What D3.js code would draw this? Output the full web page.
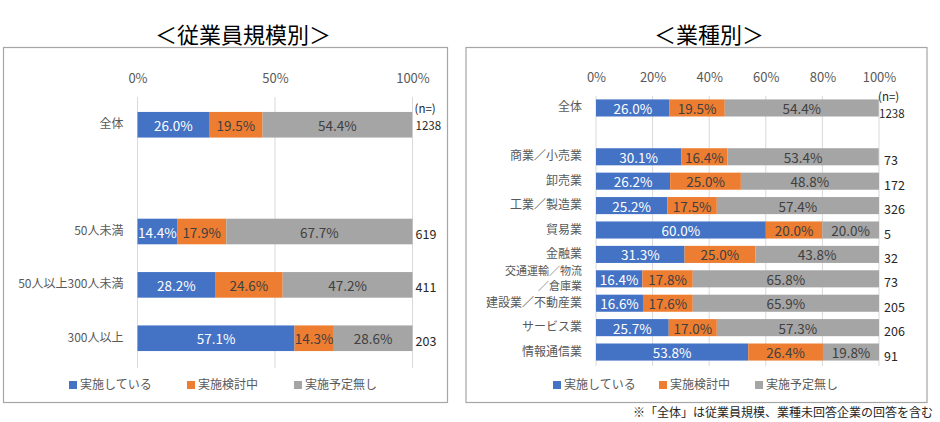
<!DOCTYPE html>
<html>
<head>
<meta charset="utf-8">
<script src="https://cdn.jsdelivr.net/npm/d3@7"></script>
<style>
	body { margin: 0; background: #fff; }
	svg text { font-family: "Noto Sans CJK JP", "Noto Sans", sans-serif; }
</style>
</head>
<body>
<div id="chart"></div>
<script>
//////////////////////////// data /////////////////////////////////////////

const seriesNames = ["実施している", "実施検討中", "実施予定無し"];

// 従業員規模別
const sizeCats = ["全体", "50人未満", "50人以上300人未満", "300人以上"];
const sizeDoing = [26.0, 14.4, 28.2, 57.1];
const sizePlanning = [19.5, 17.9, 24.6, 14.3];
const sizeNone = [54.4, 67.7, 47.2, 28.6];
const sizeN = [1238, 619, 411, 203];
const sizeTicks = [0, 50, 100];

// 業種別
const indCats = [
	"全体", "商業／小売業", "卸売業", "工業／製造業", "貿易業", "金融業",
	"交通運輸／物流\n／倉庫業", "建設業／不動産業", "サービス業", "情報通信業"
];
const indDoing = [26.0, 30.1, 26.2, 25.2, 60.0, 31.3, 16.4, 16.6, 25.7, 53.8];
const indPlanning = [19.5, 16.4, 25.0, 17.5, 20.0, 25.0, 17.8, 17.6, 17.0, 26.4];
const indNone = [54.4, 53.4, 48.8, 57.4, 20.0, 43.8, 65.8, 65.9, 57.3, 19.8];
const indN = [1238, 73, 172, 326, 5, 32, 73, 205, 206, 91];
const indTicks = [0, 20, 40, 60, 80, 100];

const footnote = "※「全体」は従業員規模、業種未回答企業の回答を含む";

//////////////////////////// svg ///////////////////////////////////

const colors = ["#4472C4", "#ED7D31", "#A5A5A5"];
const labelColors = ["#ffffff", "#404040", "#404040"];

const svg = d3.select("#chart").append("svg")
	.attr("width", 940)
	.attr("height", 422);

const drawPanel = (p) => {
	const g = svg.append("g");

	// frame + title
	g.append("rect")
		.attr("x", p.frame[0]).attr("y", p.frame[1])
		.attr("width", p.frame[2]).attr("height", p.frame[3])
		.attr("fill", "none").attr("stroke", "#a6a6a6").attr("stroke-width", 1.2);

	g.append("text")
		.attr("x", p.titleX).attr("y", 33)
		.attr("text-anchor", "middle").attr("dominant-baseline", "central")
		.attr("font-size", 22).attr("fill", "#000")
		.text(p.title);

	// rows, with an empty slot after 全体
	const rows = p.cats.map((c, i) => ({
		key: "r" + i,
		cat: c,
		vals: [p.doing[i], p.planning[i], p.none[i]],
		n: p.n[i]
	}));
	const domain = [rows[0].key, "gap", ...rows.slice(1).map((d) => d.key)];

	const x = d3.scaleLinear().domain([0, 100]).range(p.xRange);
	const y = d3.scaleBand()
		.domain(domain)
		.range(p.yRange)
		.paddingInner(p.padIn)
		.paddingOuter(p.padOut);

	// gridlines
	g.selectAll(".grid")
		.data(p.ticks)
		.enter()
		.append("line")
		.attr("x1", (d) => x(d)).attr("x2", (d) => x(d))
		.attr("y1", p.yRange[0]).attr("y2", p.yRange[1] + 2)
		.attr("stroke", "#d9d9d9").attr("stroke-width", 1);

	// axis on top
	const axis = g.append("g")
		.attr("transform", `translate(0,${p.yRange[0]})`)
		.call(d3.axisTop(x).tickValues(p.ticks).tickFormat((d) => d + "%").tickSize(0).tickPadding(14));
	axis.select(".domain").remove();
	axis.selectAll("text")
		.attr("font-size", 13).attr("fill", "#595959")
		.style("font-family", '"Noto Sans CJK JP", sans-serif');

	// stacked segments
	rows.forEach((r) => {
		let acc = 0;
		r.vals.forEach((v, k) => {
			const x0 = acc;
			acc += v;
			g.append("rect")
				.attr("x", x(x0))
				.attr("y", y(r.key))
				.attr("width", x(Math.min(acc, 100)) - x(x0))
				.attr("height", y.bandwidth())
				.attr("fill", colors[k]);
			g.append("text")
				.attr("x", (x(x0) + x(Math.min(acc, 100))) / 2)
				.attr("y", y(r.key) + y.bandwidth() / 2)
				.attr("text-anchor", "middle").attr("dominant-baseline", "central")
				.attr("font-size", 13.5).attr("fill", labelColors[k])
				.text(v.toFixed(1) + "%");
		});

		// category label (two-line labels as one text with tspans)
		const cy = y(r.key) + y.bandwidth() / 2;
		const lines = r.cat.split("\n");
		const multi = lines.length > 1;
		const cat = g.append("text")
			.attr("text-anchor", "end")
			.attr("font-size", multi ? 11 : 12).attr("fill", "#595959");
		lines.forEach((line, li) => {
			cat.append("tspan")
				.attr("x", x(0) - p.catGap)
				.attr("y", multi ? cy - 8.5 + li * 14.5 : cy - 2)
				.attr("dominant-baseline", "central")
				.text(line);
		});

		// n label
		const nx = x(100) + p.nGap;
		if (r.cat === "全体") {
			g.append("text")
				.attr("x", nx - 1).attr("y", cy - p.nUp)
				.attr("dominant-baseline", "central")
				.attr("font-size", 11.5).attr("fill", "#262626")
				.text("(n=)");
			g.append("text")
				.attr("x", nx).attr("y", cy - p.nUp + p.nStep)
				.attr("dominant-baseline", "central")
				.attr("font-size", 11.5).attr("fill", "#262626")
				.text(r.n);
		} else {
			g.append("text")
				.attr("x", nx + p.nShift).attr("y", cy + p.nDown)
				.attr("dominant-baseline", "central")
				.attr("font-size", 12.5).attr("fill", "#262626")
				.text(r.n);
		}
	});

	// legend
	const legend = g.selectAll(".legend")
		.data(seriesNames)
		.enter()
		.append("g")
		.attr("transform", (d, i) => `translate(${p.legendX[i]},383)`);
	legend.append("rect")
		.attr("x", 0).attr("y", -2).attr("width", 8).attr("height", 8)
		.attr("fill", (d, i) => colors[i]);
	legend.append("text")
		.attr("x", 11).attr("y", 0)
		.attr("dominant-baseline", "central")
		.attr("font-size", 12).attr("fill", "#595959")
		.text((d) => d);
};

drawPanel({
	title: "＜従業員規模別＞",
	titleX: 243,
	frame: [3.5, 47.5, 444, 355],
	cats: sizeCats, doing: sizeDoing, planning: sizePlanning, none: sizeNone, n: sizeN,
	ticks: sizeTicks,
	xRange: [137.5, 412.5],
	yRange: [97, 366],
	padIn: 0.52, padOut: 0.28,
	catGap: 14,
	nGap: 3, nShift: 0, nUp: 17, nStep: 17, nDown: 2,
	legendX: [69, 187, 294]
});

drawPanel({
	title: "＜業種別＞",
	titleX: 709,
	frame: [466, 47.5, 461, 355],
	cats: indCats, doing: indDoing, planning: indPlanning, none: indNone, n: indN,
	ticks: indTicks,
	xRange: [596, 879],
	yRange: [96, 364],
	padIn: 0.3, padOut: 0.14,
	catGap: 14,
	nGap: 0, nShift: 5, nUp: 12, nStep: 17, nDown: 3,
	legendX: [553, 659, 755]
});

svg.append("text")
	.attr("x", 933).attr("y", 411)
	.attr("text-anchor", "end").attr("dominant-baseline", "central")
	.attr("font-size", 12).attr("fill", "#262626")
	.text(footnote);
</script>
</body>
</html>
